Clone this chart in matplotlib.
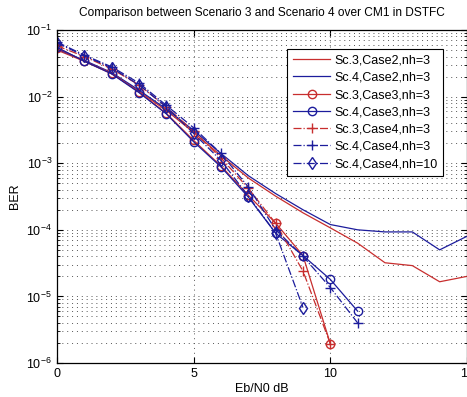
import matplotlib
matplotlib.use('Agg')
import matplotlib.pyplot as plt
from matplotlib.ticker import LogLocator, NullFormatter

plt.rcParams['font.family'] = ['Liberation Sans', 'DejaVu Sans']
plt.rcParams['mathtext.default'] = 'regular'

# Eb/N0 values (dB)
snr_case2 = [0, 1, 2, 3, 4, 5, 6, 7, 8, 9, 10, 11, 12, 13, 14, 15]
sc3_case2 = [0.050, 0.034, 0.022, 0.012, 0.0062, 0.0029, 0.0013, 6.0e-4, 3.2e-4,
             1.8e-4, 1.07e-4, 6.3e-5, 3.2e-5, 2.9e-5, 1.66e-5, 2.0e-5]
sc4_case2 = [0.052, 0.035, 0.023, 0.0125, 0.0065, 0.0031, 0.0014, 6.5e-4, 3.5e-4,
             2.0e-4, 1.2e-4, 1.0e-4, 9.3e-5, 9.3e-5, 5.0e-5, 8.0e-5]

snr_sc3_case3 = [0, 1, 2, 3, 4, 5, 6, 7, 8, 9, 10]
sc3_case3 = [0.054, 0.034, 0.0225, 0.0117, 0.0056, 0.0022, 9.1e-4, 3.3e-4, 1.26e-4,
             4.1e-5, 1.95e-6]
snr_sc4_case3 = [0, 1, 2, 3, 4, 5, 6, 7, 8, 9, 10, 11]
sc4_case3 = [0.055, 0.034, 0.022, 0.0115, 0.0055, 0.0021, 8.8e-4, 3.1e-4, 8.9e-5,
             4.1e-5, 1.8e-5, 6e-6]

snr_sc3_case4 = [0, 1, 2, 3, 4, 5, 6, 7, 8, 9, 10]
sc3_case4 = [0.058, 0.040, 0.026, 0.015, 0.0070, 0.0030, 1.2e-3, 4.2e-4, 1.25e-4,
             2.4e-5, 1.95e-6]
snr_sc4_case4 = [0, 1, 2, 3, 4, 5, 6, 7, 8, 9, 10, 11]
sc4_case4 = [0.066, 0.042, 0.028, 0.016, 0.0074, 0.0034, 1.4e-3, 4.4e-4, 1.0e-4,
             4.0e-5, 1.36e-5, 4e-6]
snr_sc4_case4_nh10 = [0, 1, 2, 3, 4, 5, 6, 7, 8, 9]
sc4_case4_nh10 = [0.064, 0.041, 0.027, 0.015, 0.0070, 0.0028, 1.1e-3, 3.2e-4,
                  8.9e-5, 6.8e-6]

red = '#c82e2e'
blue = '#1c1c9c'

fig = plt.figure(figsize=(4.67, 3.97), dpi=100)
ax = fig.add_axes([0.122, 0.0856, 0.878, 0.8388])

ax.semilogy(snr_case2, sc3_case2, '-', color=red, lw=0.9, label='Sc.3,Case2,nh=3')
ax.semilogy(snr_case2, sc4_case2, '-', color=blue, lw=0.9, label='Sc.4,Case2,nh=3')
ax.semilogy(snr_sc3_case3, sc3_case3, '-o', color=red, lw=0.9, ms=6, mfc='none',
            label='Sc.3,Case3,nh=3')
ax.semilogy(snr_sc4_case3, sc4_case3, '-o', color=blue, lw=0.9, ms=6, mfc='none',
            label='Sc.4,Case3,nh=3')
ax.semilogy(snr_sc3_case4, sc3_case4, '-.+', color=red, lw=0.9, ms=7,
            label='Sc.3,Case4,nh=3')
ax.semilogy(snr_sc4_case4, sc4_case4, '-.+', color=blue, lw=0.9, ms=7,
            label='Sc.4,Case4,nh=3')
ax.semilogy(snr_sc4_case4_nh10, sc4_case4_nh10, '-.d', color=blue, lw=0.9, ms=6,
            mfc='none', label='Sc.4,Case4,nh=10')

ax.set_xlim(0, 15)
ax.set_ylim(1e-6, 1e-1)
ax.set_xticks([0, 5, 10, 15])
ax.yaxis.set_major_locator(LogLocator(base=10, numticks=10))
ax.yaxis.set_minor_locator(LogLocator(base=10, subs=range(2, 10), numticks=20))
ax.yaxis.set_minor_formatter(NullFormatter())

# MATLAB style sparse dotted grid
grid_kw = dict(color='#555555', linestyle=(0, (1, 4)), lw=0.7)
ax.grid(True, which='major', axis='both', **grid_kw)
ax.grid(True, which='minor', axis='y', **grid_kw)
ax.set_axisbelow(True)
ax.tick_params(which='both', direction='in', top=True, right=True, labelsize=9)
ax.tick_params(which='major', length=4)
ax.tick_params(which='minor', length=2)
for s in ax.spines.values():
    s.set_linewidth(0.9)

ax.set_title('Comparison between Scenario 3 and Scenario 4 over CM1 in DSTFC',
             fontsize=8.6, pad=10)
ax.set_xlabel('Eb/N0 dB', fontsize=9, labelpad=2)
ax.set_ylabel('BER', fontsize=9, labelpad=4)

leg = ax.legend(loc='upper left', bbox_to_anchor=(0.615, 0.8766),
                bbox_transform=fig.transFigure, fontsize=9, frameon=True,
                fancybox=False, edgecolor='black', framealpha=1,
                handlelength=3.0, labelspacing=0.42, borderpad=0.45,
                handletextpad=0.3, borderaxespad=0)
leg.get_frame().set_linewidth(0.8)

fig.savefig('out.png', dpi=100)
